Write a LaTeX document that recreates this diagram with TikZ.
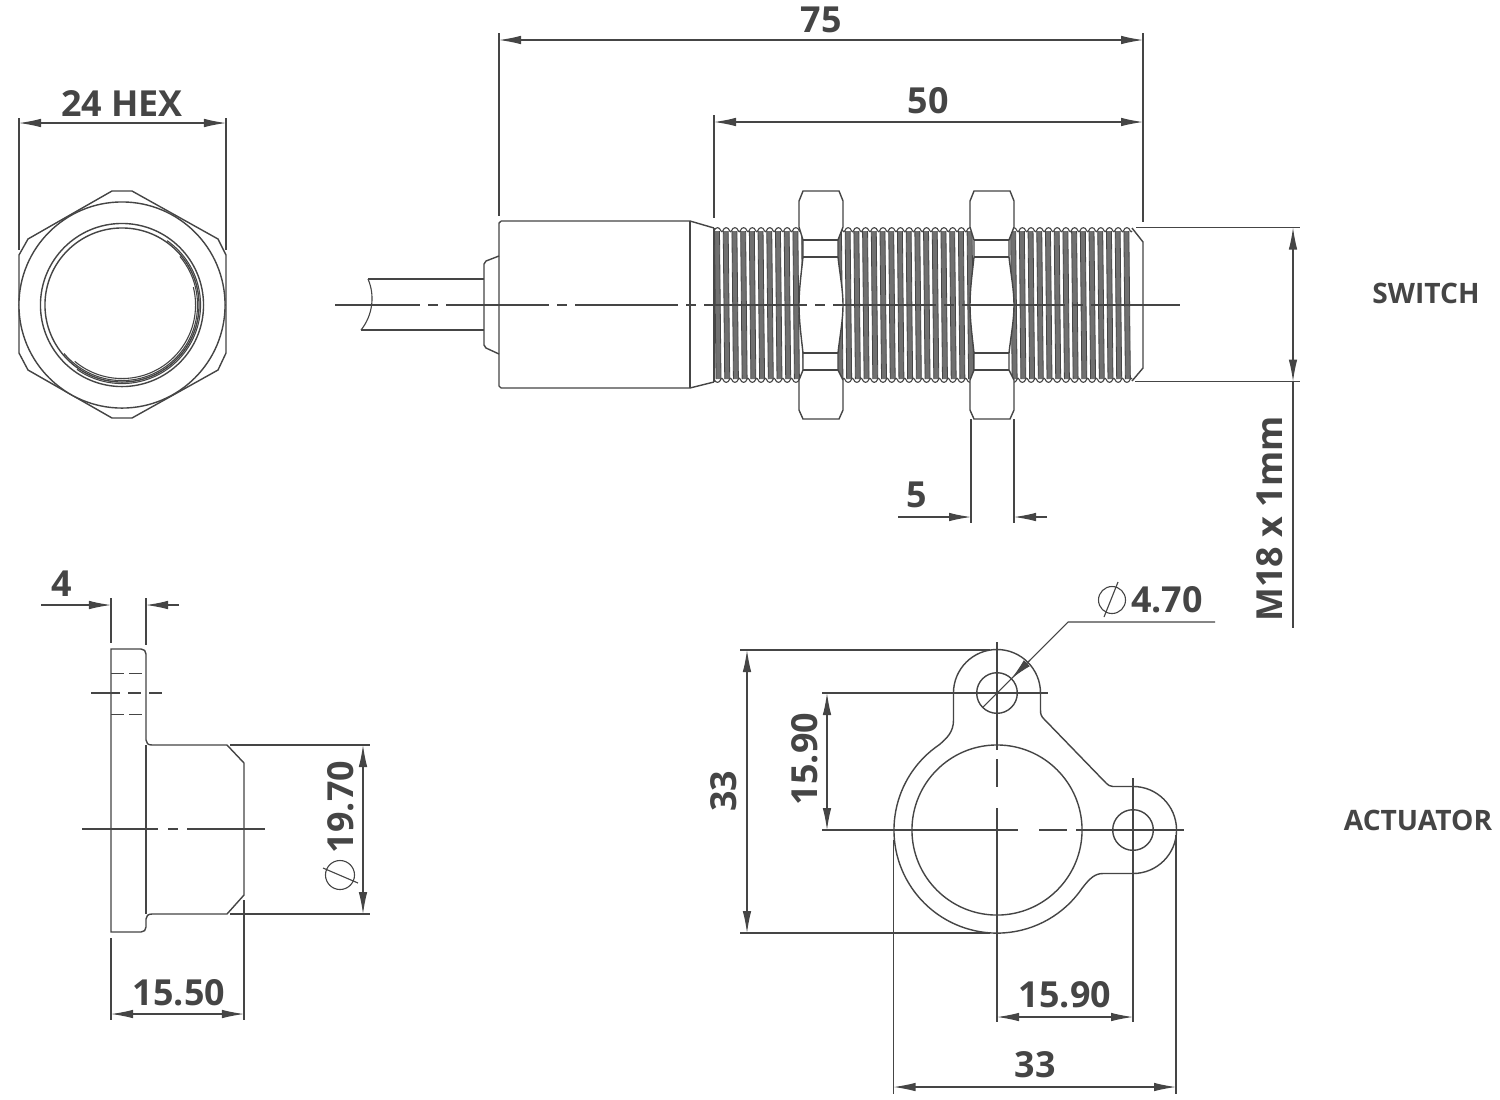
\documentclass[tikz,border=0pt]{standalone}
\usepackage{fontspec}
\setmainfont{Open Sans}
\usetikzlibrary{arrows.meta}
\definecolor{inkgray}{HTML}{454545}
\definecolor{threadgray}{HTML}{707070}
\tikzset{
	partline/.style={draw=inkgray,line width=.014cm},
	extline/.style={draw=inkgray,line width=.011cm},
	threadline/.style={draw=inkgray,line width=.008cm},
	dimline/.style={draw=inkgray,line width=.011cm,{Latex[length=.22cm,width=.085cm]}-{Latex[length=.22cm,width=.085cm]}},
	leadline/.style={draw=inkgray,line width=.011cm,-{Latex[length=.22cm,width=.085cm]}},
	midline/.style={draw=inkgray,line width=.011cm,dash pattern=on 1.03cm off .08cm on .1cm off .08cm,dash phase=.18cm},
	hiddenline/.style={draw=inkgray,line width=.01cm,dash pattern=on .13cm off .05cm},
	dimlabel/.style={text=inkgray,font=\fontsize{10.2}{12}\selectfont\bfseries,inner sep=0pt},
	viewlabel/.style={text=inkgray,font=\fontsize{8}{10}\selectfont\bfseries,inner sep=0pt}
}
\begin{document}
\begin{tikzpicture}[x=.01cm,y=-.01cm]
	\fill[white] (0,0) rectangle (1500,1099);
	\useasboundingbox (0,0) rectangle (1500,1099);

	% hex end view
	\draw[partline] (112,191) -- (132,191) -- (218,239) -- (226,255) -- (226,353) -- (218,370) -- (132,418) -- (112,418) -- (28,370) -- (19,353) -- (19,255) -- (28,239) -- cycle;
	\draw[partline,fill=white] (122,305) circle[radius=1.03cm];
	\draw[partline] (122,305) circle[radius=.815cm];
	\draw[partline] (122,305) circle[radius=.77cm];
	\draw[extline] (122,305) ++(55:.785cm) arc[start angle=55,end angle=-125,radius=.785cm];
	\draw[extline] (122,305) ++(40:.755cm) arc[start angle=40,end angle=-140,radius=.755cm];
	\draw[extline] (122,305) ++(14:.735cm) arc[start angle=14,end angle=-130,radius=.735cm];
	\draw[extline] (19,118) -- (19,250);
	\draw[extline] (226,118) -- (226,250);
	\draw[dimline] (19,123) -- (226,123);
	\node[dimlabel] (hexlabel) at (122,103) {24 HEX};

	% cable and body
	\draw[partline] (368,279) -- (484,279);
	\draw[partline] (361,330) -- (484,330);
	\draw[extline] (368,279) .. controls (375,295) and (373,315) .. (361,330);
	\draw[partline] (499,256) -- (486,261) -- (484,264) -- (484,345) -- (486,348) -- (499,354);
	\draw[partline] (501,221) -- (690,221) -- (714,228);
	\draw[partline] (501,388) -- (690,388) -- (714,382);
	\draw[partline] (501,221) -- (499,223) -- (499,386) -- (501,388);
	\draw[partline] (690,221) -- (690,388);
	\draw[partline] (714,228) -- (714,382);

	% thread
	\foreach \i in {0,...,47} {
		\pgfmathsetmacro{\tx}{714+8.71*\i}
		\fill[threadgray] (\tx+.5,231) -- (\tx+5.5,231) -- (\tx+7,379) -- (\tx+2,379) -- cycle;
		\draw[threadline] (\tx+.5,231) -- (\tx+2,379);
		\draw[threadline] (\tx+5.5,231) -- (\tx+7,379);
		\draw[extline] (\tx,231) .. controls (\tx+1.5,226.5) and (\tx+5.5,226.5) .. (\tx+7,231) .. controls (\tx+7.5,232) and (\tx+8.2,232) .. (\tx+8.71,231);
		\draw[extline] (\tx,379) .. controls (\tx+1.5,383.5) and (\tx+5.5,383.5) .. (\tx+7,379) .. controls (\tx+7.5,378) and (\tx+8.2,378) .. (\tx+8.71,379);
	}
	\draw[partline] (1132,228) -- (1143,242) -- (1143,368) -- (1132,381);

	% nuts
	\foreach \nx in {799,970} {
		\begin{scope}[shift={(\nx,0)}]
			\draw[partline,fill=white] (4,191) -- (40,191) -- (44,201) -- (44,227) -- (39,240) -- (39,257) .. controls (41,275) and (44,290) .. (44,305) .. controls (44,320) and (41,335) .. (39,353) -- (39,370) -- (44,380) -- (44,410) -- (40,419) -- (4,419) -- (0,410) -- (0,380) -- (4,370) -- (4,353) .. controls (2,335) and (0,320) .. (0,305) .. controls (0,290) and (2,275) .. (4,257) -- (4,240) -- (0,227) -- (0,201) -- cycle;
			\draw[extline] (4,240) -- (39,240);
			\draw[extline] (4,257) -- (39,257);
			\draw[extline] (4,353) -- (39,353);
			\draw[extline] (4,370) -- (39,370);
		\end{scope}
	}
	\draw[midline] (335,305) -- (1180,305);

	% switch dimensions
	\draw[extline] (499,33) -- (499,216);
	\draw[extline] (1143,33) -- (1143,222);
	\draw[extline] (714,115) -- (714,218);
	\draw[dimline] (499,40) -- (1143,40);
	\draw[dimline] (714,122) -- (1143,122);
	\node[dimlabel] (lengthlabel) at (821,20) {75};
	\node[dimlabel] (threadlabel) at (928,101) {50};
	\draw[extline] (1136,227.5) -- (1300,227.5);
	\draw[extline] (1135,381.5) -- (1300,381.5);
	\draw[dimline] (1293,227.5) -- (1293,381.5);
	\draw[extline] (1293,381.5) -- (1293,628);
	\node[dimlabel,rotate=90] (metriclabel) at (1270,519) {M18 x 1mm};
	\draw[extline] (971,419) -- (971,523);
	\draw[extline] (1014,419) -- (1014,523);
	\draw[leadline] (898,517) -- (971,517);
	\draw[leadline] (1047,517) -- (1014,517);
	\node[dimlabel] (nutlabel) at (917,495) {5};
	\node[viewlabel] (switchlabel) at (1426,293) {SWITCH};

	% actuator side view
	\draw[partline] (111,649) -- (141,649) .. controls (144,649) and (146,651) .. (146,654) -- (146,740) .. controls (146,743) and (148,745) .. (152,745) -- (227,745) -- (244,763) -- (244,895) -- (227,914) -- (152,914) .. controls (148,914) and (146,916) .. (146,919) -- (146,927) .. controls (146,930) and (144,932) .. (141,932) -- (111,932) -- cycle;
	\draw[extline] (146,745) -- (146,914);
	\draw[hiddenline] (111,673) -- (146,673);
	\draw[hiddenline] (111,714) -- (146,714);
	\draw[extline,dash pattern=on .29cm off .08cm on .13cm off .08cm on .32cm] (91,693) -- (162,693);
	\draw[extline,dash pattern=on .76cm off .1cm on .1cm off .09cm on .78cm] (82,829) -- (265,829);
	\draw[extline] (111,598) -- (111,643);
	\draw[extline] (146,598) -- (146,645);
	\draw[leadline] (41,605) -- (111,605);
	\draw[leadline] (179,605) -- (146,605);
	\node[dimlabel] (flangelabel) at (62,584) {4};
	\draw[extline] (230,745) -- (370,745);
	\draw[extline] (230,914) -- (370,914);
	\draw[dimline] (363,745) -- (363,914);
	\node[dimlabel,rotate=90] (necklabel) at (341,807) {19.70};
	\draw[extline] (340,875) circle[radius=.145cm];
	\draw[extline] (323,868) -- (358,883);
	\draw[extline] (111,938) -- (111,1020);
	\draw[extline] (244,900) -- (244,1020);
	\draw[dimline] (111,1014) -- (244,1014);
	\node[dimlabel] (depthlabel) at (179,993) {15.50};

	% actuator front view
	\draw[partline] (953.5,693) -- (953.5,720) .. controls (953.5,732) and (947,738) .. (939.4,744.6) arc[start angle=124,end angle=325.8,radius=1.03cm] .. controls (1090,878) and (1095,873.5) .. (1103,873.5) -- (1133,873.5) arc[start angle=270,end angle=450,radius=.435cm] -- (1113,786.5) .. controls (1110,786.5) and (1108,785) .. (1106,783) -- (1044,719) .. controls (1041,716) and (1040.5,714) .. (1040.5,710) -- (1040.5,693) arc[start angle=0,end angle=180,radius=.435cm];
	\draw[partline] (997,830) circle[radius=.85cm];
	\draw[partline] (997,693) circle[radius=.203cm];
	\draw[partline] (1133,830) circle[radius=.203cm];
	\draw[extline] (997,642) -- (997,750);
	\draw[extline] (997,759) -- (997,787);
	\draw[extline] (997,808) -- (997,1022);
	\draw[extline] (822,830) -- (1018,830);
	\draw[extline] (1039,830) -- (1067,830);
	\draw[extline] (1076,830) -- (1184,830);
	\draw[extline] (822,693) -- (1048,693);
	\draw[extline] (1133,778) -- (1133,1022);
	\draw[extline] (893.5,840) -- (893.5,1094);
	\draw[extline] (1176,835) -- (1176,1094);
	\draw[extline] (740,650) -- (990,650);
	\draw[extline] (740,933) -- (990,933);
	\draw[dimline] (747,650) -- (747,933);
	\draw[dimline] (827,693) -- (827,830);
	\draw[dimline] (997,1017) -- (1133,1017);
	\draw[dimline] (893.5,1087) -- (1176,1087);
	\node[dimlabel,rotate=90] (heightlabel) at (724,791) {33};
	\node[dimlabel,rotate=90] (upperlabel) at (805,759) {15.90};
	\node[dimlabel] (reachlabel) at (1065,995) {15.90};
	\node[dimlabel] (widthlabel) at (1035,1065) {33};
	\draw[extline] (983,707) -- (1068,622) -- (1215,622);
	\draw[leadline] (1030,660) -- (1011.3,678.7);
	\draw[extline] (1112,600) circle[radius=.135cm];
	\draw[extline] (1104,617) -- (1118,582);
	\node[dimlabel] (holelabel) at (1167,600) {4.70};
	\node[viewlabel] (actuatorlabel) at (1418,820) {ACTUATOR};
\end{tikzpicture}
\end{document}
